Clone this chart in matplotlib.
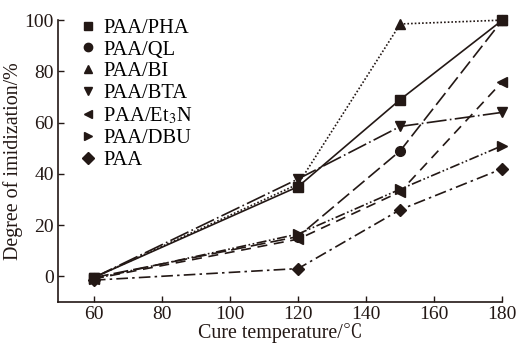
import matplotlib
matplotlib.use('Agg')
import matplotlib.pyplot as plt

plt.rcParams['font.family'] = ['Liberation Serif', 'Noto Serif CJK SC', 'Noto Sans CJK SC', 'DejaVu Sans']
plt.rcParams['mathtext.fontset'] = 'stix'

temps = [60, 120, 150, 180]
pha = [-0.5, 35, 69, 100]
ql = [-0.5, 15.5, 49, 100]
bi = [-0.5, 36, 98.5, 100]
bta = [-0.5, 38, 58.5, 64]
et3n = [-1, 14.5, 33, 76]
dbu = [-1, 16.5, 34, 51]
paa = [-1.5, 3, 26, 42]

labels = ['PAA/PHA', 'PAA/QL', 'PAA/BI', 'PAA/BTA', 'PAA/Et$_3$N', 'PAA/DBU', 'PAA']
series = [pha, ql, bi, bta, et3n, dbu, paa]
markers = ['s', 'o', '^', 'v', '<', '>', 'D']
styles = ['-', (0, (9, 3)), (0, (1, 1.2)), (0, (12, 2, 1, 2)), (0, (6, 4)),
          (0, (6, 1.5, 1, 1.5, 1, 1.5)), (0, (7, 2.5, 1.5, 2.5))]
sizes = [7, 7, 7.5, 7.5, 7.5, 7.5, 6]

color = '#231815'

fig, ax = plt.subplots(figsize=(5.19, 3.47), dpi=100)
fig.subplots_adjust(left=0.112, right=0.968, top=0.942, bottom=0.13)

for y, lab, m, ls, ms in zip(series, labels, markers, styles, sizes):
    ax.plot(temps, y, color=color, linestyle=ls, linewidth=1.2, marker=m,
            markersize=ms, label=lab, clip_on=False)

ax.set_xlim(49.5, 180)
ax.set_ylim(-10, 100)
ax.set_xticks([60, 80, 100, 120, 140, 160, 180])
ax.set_yticks([0, 20, 40, 60, 80, 100])
ax.tick_params(direction='in', length=4, width=1, labelsize=14, colors=color, pad=3)
for side in ['top', 'right']:
    ax.spines[side].set_visible(False)
for side in ['left', 'bottom']:
    ax.spines[side].set_linewidth(1.2)
    ax.spines[side].set_color(color)

ax.set_xlabel('Cure temperature/℃', fontsize=14.4, color=color, labelpad=0)
ax.set_ylabel('Degree of imidization/%', fontsize=14.4, color=color, labelpad=1)

handles = [plt.Line2D([], [], color=color, linestyle='none', marker=m, markersize=6)
           for m in markers]
ax.legend(handles, labels, loc='upper left', bbox_to_anchor=(0.025, 1.05), frameon=False,
          fontsize=14.8, handlelength=0.6, handletextpad=0.45, labelspacing=0.12,
          borderaxespad=0.2)

fig.savefig('out.png', dpi=100)
